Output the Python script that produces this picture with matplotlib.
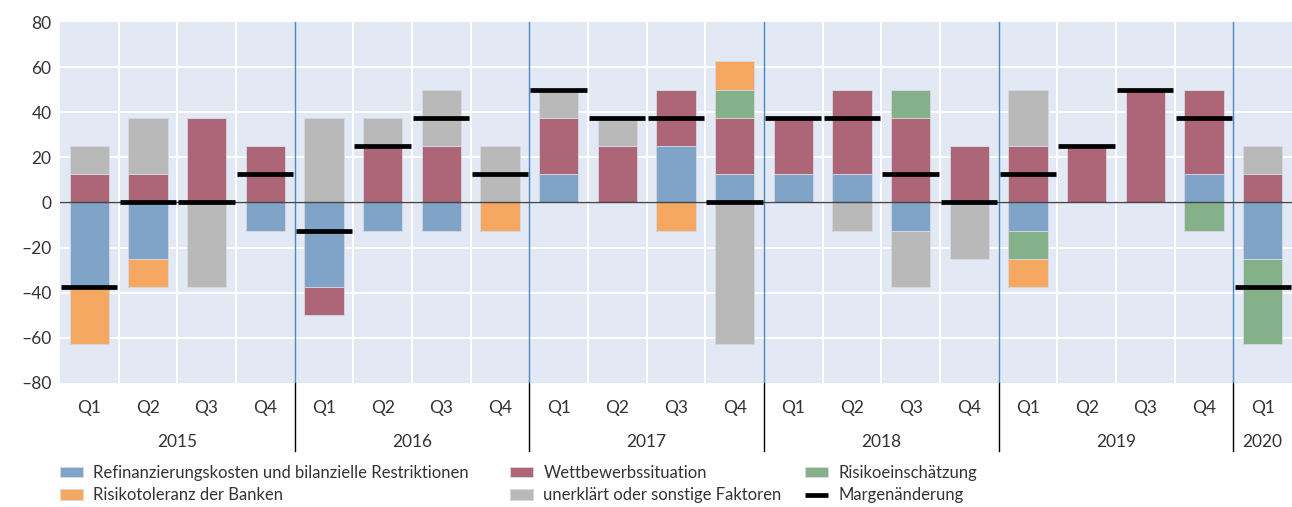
import matplotlib.pyplot as plt
import numpy as np

years = ['2015', '2016', '2017', '2018', '2019', '2020']
quarters = ['Q1', 'Q2', 'Q3', 'Q4'] * 5 + ['Q1']

# Beiträge je Quartal (Prozentpunkte)
refinanz = [-37.5, -25, 0, -12.5, -37.5, -12.5, -12.5, 0, 12.5, 0, 25, 12.5,
            12.5, 12.5, -12.5, 0, -12.5, 0, 0, 12.5, -25]
wettbewerb = [12.5, 12.5, 37.5, 25, -12.5, 25, 25, 0, 25, 25, 25, 25,
              25, 37.5, 37.5, 25, 25, 25, 50, 37.5, 12.5]
risikoein = [0, 0, 0, 0, 0, 0, 0, 0, 0, 0, 0, 12.5,
             0, 0, 12.5, 0, -12.5, 0, 0, -12.5, -37.5]
risikotol = [-25, -12.5, 0, 0, 0, 0, 0, -12.5, 0, 0, -12.5, 12.5,
             0, 0, 0, 0, -12.5, 0, 0, 0, 0]
sonstige = [12.5, 25, -37.5, 0, 37.5, 12.5, 25, 25, 12.5, 12.5, 0, -62.5,
            0, -12.5, -25, -25, 25, 0, 0, 0, 12.5]
marge = [-37.5, 0, 0, 12.5, -12.5, 25, 37.5, 12.5, 50, 37.5, 37.5, 0,
         37.5, 37.5, 12.5, 0, 12.5, 25, 50, 37.5, -37.5]

series = [
    (refinanz, '#80a3c8', 'Refinanzierungskosten und bilanzielle Restriktionen'),
    (wettbewerb, '#ad6677', 'Wettbewerbssituation'),
    (risikoein, '#84b08a', 'Risikoeinschätzung'),
    (risikotol, '#f5a862', 'Risikotoleranz der Banken'),
    (sonstige, '#b9b9b9', 'unerklärt oder sonstige Faktoren'),
]

plt.rcParams['font.family'] = ['Lato', 'DejaVu Sans']
txt = '#333333'

fig = plt.figure(figsize=(12.92, 5.07), dpi=100)
ax = fig.add_axes([0.0464, 0.2446, 0.9536, 0.712])
ax.set_facecolor('#e2e8f4')

x = np.arange(len(marge))
pos_base = np.zeros(len(x))
neg_base = np.zeros(len(x))
handles = {}
for vals, col, lab in series:
    v = np.array(vals, dtype=float)
    bottom = np.where(v >= 0, pos_base, neg_base)
    b = ax.bar(x, v, 0.67, bottom=bottom, color=col, edgecolor='#d6d9e0',
               linewidth=0.6, zorder=3, label=lab)
    handles[lab] = b
    pos_base += np.where(v > 0, v, 0)
    neg_base += np.where(v < 0, v, 0)

m = ax.hlines(marge, x - 0.48, x + 0.48, color='black', linewidth=3.4, zorder=5)
handles['Margenänderung'] = m

ax.set_xlim(-0.5, len(x) - 0.5)
ax.set_ylim(-80, 80)
ax.set_yticks(np.arange(-80, 81, 20))
ax.set_yticklabels([str(t).replace('-', '\u2013') for t in range(-80, 81, 20)])
ax.set_xticks(x)
ax.set_xticklabels(quarters)
ax.tick_params(length=0, labelsize=12.5, colors=txt, pad=12)
ax.tick_params(axis='y', pad=6)
for s in ax.spines.values():
    s.set_visible(False)

# Gitter
for g in np.arange(-60, 80, 20):
    ax.axhline(g, color='white', linewidth=1.5, zorder=1)
for xv in np.arange(0.5, len(x) - 1, 1):
    if (xv + 0.5) % 4 == 0:
        ax.axvline(xv, color='#4a8ac4', linewidth=1, zorder=4)
        ax.plot([xv, xv], [-80, -110], color='black', linewidth=1,
                clip_on=False, zorder=4)
    else:
        ax.axvline(xv, color='white', linewidth=1.5, zorder=1)
ax.axhline(0, color='#444444', linewidth=1, zorder=4)

# Jahresbeschriftung
for i, yr in enumerate(years):
    start = i * 4
    end = min(start + 3, len(x) - 1)
    ax.text((start + end) / 2, -106, yr, ha='center', va='center',
            fontsize=12.5, color=txt)

# Legende: drei Spalten
cols = [
    (['Refinanzierungskosten und bilanzielle Restriktionen', 'Risikotoleranz der Banken'], 60),
    (['Wettbewerbssituation', 'unerklärt oder sonstige Faktoren'], 510),
    (['Risikoeinschätzung', 'Margenänderung'], 805),
]
for labs, px in cols:
    fig.legend([handles[k] for k in labs], labs, loc='upper left',
               bbox_to_anchor=(px / 1292, 0.083), frameon=False, fontsize=12,
               labelcolor=txt, handlelength=1.4, handleheight=0.6,
               labelspacing=0.38, borderaxespad=0, borderpad=0,
               handletextpad=0.6)

fig.savefig('out.png', dpi=100)
